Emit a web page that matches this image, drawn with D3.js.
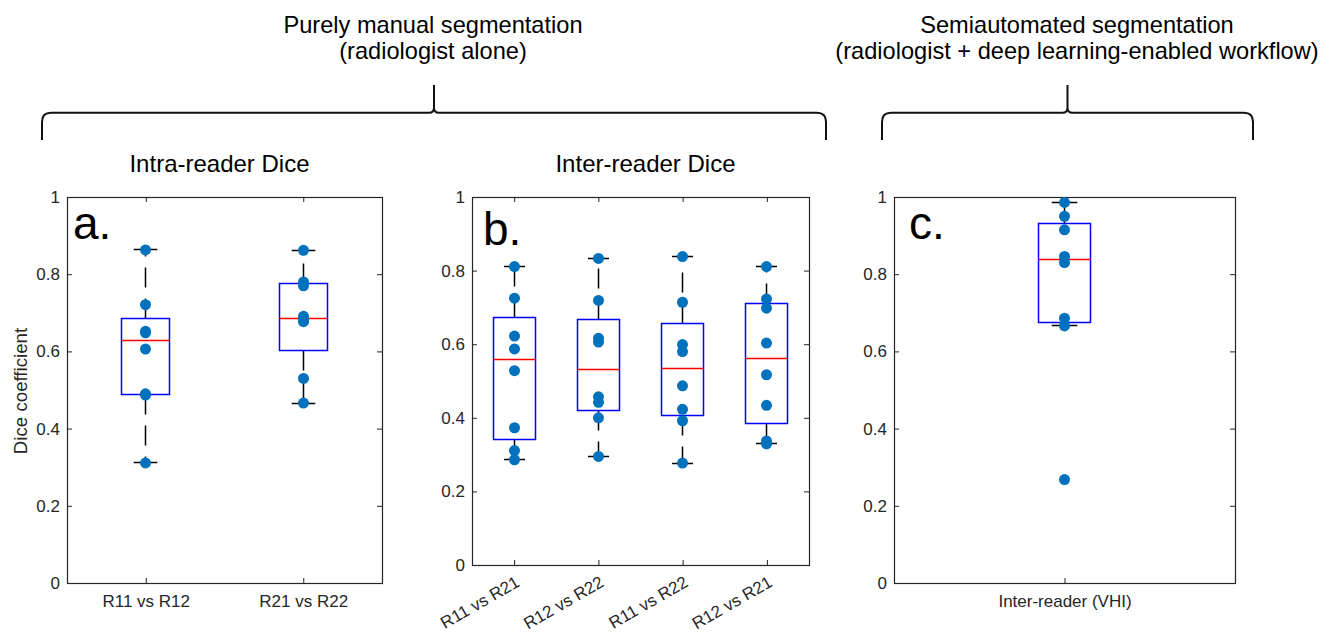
<!DOCTYPE html>
<html>
<head>
<meta charset="utf-8">
<script src="https://cdn.jsdelivr.net/npm/d3@7"></script>
<style>
  html, body { margin: 0; padding: 0; background: #fff; }
  svg { display: block; font-family: "Liberation Sans", Arial, Helvetica, sans-serif; }
</style>
</head>
<body>
<svg id="chart" width="1330" height="634"></svg>
<script>
// ---------------- DATA ----------------
const yTicks = [0, 0.2, 0.4, 0.6, 0.8, 1];
const yTickLabels = ["0", "0.2", "0.4", "0.6", "0.8", "1"];

const catsA = ["R11 vs R12", "R21 vs R22"];
const diceA = [
  [0.863, 0.721, 0.652, 0.648, 0.606, 0.490, 0.487, 0.311],
  [0.862, 0.780, 0.770, 0.691, 0.681, 0.677, 0.530, 0.466]
];

const catsB = ["R11 vs R21", "R12 vs R22", "R11 vs R22", "R12 vs R21"];
const diceB = [
  [0.811, 0.725, 0.622, 0.587, 0.528, 0.373, 0.311, 0.286],
  [0.833, 0.719, 0.616, 0.606, 0.457, 0.442, 0.400, 0.295],
  [0.838, 0.714, 0.599, 0.580, 0.487, 0.423, 0.392, 0.277],
  [0.811, 0.723, 0.698, 0.603, 0.517, 0.434, 0.337, 0.329]
];

const catsC = ["Inter-reader (VHI)"];
const diceC = [
  [0.986, 0.950, 0.915, 0.846, 0.830, 0.686, 0.666, 0.268]
];

const panelTitles = ["Intra-reader Dice", "Inter-reader Dice", ""];
const panelLetters = ["a.", "b.", "c."];
const yAxisLabel = "Dice coefficient";
const groupTitles = [
  ["Purely manual segmentation", "(radiologist alone)"],
  ["Semiautomated segmentation", "(radiologist + deep learning-enabled workflow)"]
];

// ---------------- LAYOUT ----------------
const AX = "#262626";
const DOT = "#0072BD";
const FONT_TICK = 17;
const LW = 1.5;

const panels = [
  { cats: catsA, data: diceA, x0: 67, x1: 382, y0: 197, y1: 583, boxFrac: 0.30,
    title: panelTitles[0], titleX: 219.5, letter: panelLetters[0], letterX: 73, letterY: 239,
    ylabel: true, rotate: false },
  { cats: catsB, data: diceB, x0: 472, x1: 809, y0: 197, y1: 565, boxFrac: 0.50,
    title: panelTitles[1], titleX: 645.5, letter: panelLetters[1], letterX: 483, letterY: 245,
    ylabel: false, rotate: true },
  { cats: catsC, data: diceC, x0: 894, x1: 1235, y0: 197, y1: 583, boxFrac: 0.15,
    title: panelTitles[2], titleX: 1064, letter: panelLetters[2], letterX: 909, letterY: 239,
    ylabel: false, rotate: false }
];

const braces = [
  { x0: 42, x1: 826, tip: 434, yLine: 112.7, yTop: 85, yBot: 140, textX: 433, lines: groupTitles[0] },
  { x0: 882, x1: 1253, tip: 1067.5, yLine: 112.7, yTop: 85, yBot: 140, textX: 1077, lines: groupTitles[1] }
];

const cr = v => Math.round(v - 0.5) + 0.5;

// MATLAB-style percentile
function mq(sorted, p) {
  const n = sorted.length;
  const pos = n * p + 0.5;
  if (pos <= 1) return sorted[0];
  if (pos >= n) return sorted[n - 1];
  const i = Math.floor(pos), f = pos - i;
  return sorted[i - 1] + f * (sorted[i] - sorted[i - 1]);
}
function boxStats(vals) {
  const s = vals.slice().sort((a, b) => a - b);
  const q1 = mq(s, 0.25), med = mq(s, 0.5), q3 = mq(s, 0.75);
  const iqr = q3 - q1;
  const lo = d3.min(s.filter(v => v >= q1 - 1.5 * iqr));
  const hi = d3.max(s.filter(v => v <= q3 + 1.5 * iqr));
  return { q1, med, q3, lo, hi };
}

const svg = d3.select("#chart");

// ---------------- BRACES + GROUP TITLES ----------------
braces.forEach(b => {
  const r = 9, rt = 5;
  const p = d3.path();
  p.moveTo(b.x0, b.yBot);
  p.lineTo(b.x0, b.yLine + r);
  p.quadraticCurveTo(b.x0, b.yLine, b.x0 + r, b.yLine);
  p.lineTo(b.tip - rt, b.yLine);
  p.quadraticCurveTo(b.tip, b.yLine, b.tip, b.yLine - rt);
  p.lineTo(b.tip, b.yTop);
  p.moveTo(b.x1, b.yBot);
  p.lineTo(b.x1, b.yLine + r);
  p.quadraticCurveTo(b.x1, b.yLine, b.x1 - r, b.yLine);
  p.lineTo(b.tip + rt, b.yLine);
  p.quadraticCurveTo(b.tip, b.yLine, b.tip, b.yLine - rt);
  svg.append("path").attr("d", p.toString())
    .attr("fill", "none").attr("stroke", "#111").attr("stroke-width", 2);
  b.lines.forEach((t, i) => {
    svg.append("text").attr("x", b.textX).attr("y", 32.5 + i * 26.5)
      .attr("text-anchor", "middle").attr("font-size", 23.6).attr("fill", "#000").text(t);
  });
});

// ---------------- PANELS ----------------
panels.forEach(P => {
  const g = svg.append("g");
  const x = d3.scalePoint().domain(P.cats).range([P.x0, P.x1]).padding(0.5);
  const y = d3.scaleLinear().domain([0, 1]).range([P.y1, P.y0]);
  const step = x.step();
  const bw = step * P.boxFrac;

  // frame
  g.append("rect").attr("x", cr(P.x0)).attr("y", cr(P.y0))
    .attr("width", Math.round(P.x1 - P.x0)).attr("height", Math.round(P.y1 - P.y0))
    .attr("fill", "none").attr("stroke", AX).attr("stroke-width", 1.2);

  // left axis
  const yAx = d3.axisLeft(y).tickValues(yTicks)
    .tickFormat((d, i) => yTickLabels[i]).tickSize(-5).tickPadding(7);
  const gy = g.append("g").attr("transform", `translate(${P.x0},0)`).call(yAx);
  gy.select(".domain").remove();
  gy.selectAll("line").attr("stroke", AX);
  gy.selectAll("text").attr("font-size", FONT_TICK).attr("fill", AX)
    .attr("font-family", "Liberation Sans, Arial, sans-serif");

  // right ticks
  const yAxR = d3.axisRight(y).tickValues(yTicks).tickSize(-5).tickFormat("");
  const gyr = g.append("g").attr("transform", `translate(${P.x1},0)`).call(yAxR);
  gyr.select(".domain").remove();
  gyr.selectAll("line").attr("stroke", AX);

  // top ticks
  const xAxT = d3.axisTop(x).tickSize(-5).tickFormat("");
  const gxt = g.append("g").attr("transform", `translate(0,${P.y0})`).call(xAxT);
  gxt.select(".domain").remove();
  gxt.selectAll("line").attr("stroke", AX);

  // bottom axis
  const xAx = d3.axisBottom(x).tickSize(-5).tickPadding(12);
  const gx = g.append("g").attr("transform", `translate(0,${P.y1})`).call(xAx);
  gx.select(".domain").remove();
  gx.selectAll("line").attr("stroke", AX);
  gx.selectAll("text").attr("font-size", FONT_TICK).attr("fill", AX)
    .attr("font-family", "Liberation Sans, Arial, sans-serif");
  if (P.rotate) {
    gx.selectAll("text")
      .attr("text-anchor", "end")
      .attr("y", 0).attr("dy", "0.71em")
      .attr("transform", "translate(0,10) rotate(-30)");
  }

  // boxes
  P.cats.forEach((c, i) => {
    const vals = P.data[i];
    const s = boxStats(vals);
    const cx = cr(x(c));
    const xl = cr(cx - bw / 2), xr = cr(cx + bw / 2);
    const yq1 = cr(y(s.q1)), yq3 = cr(y(s.q3)), ymed = cr(y(s.med));
    const yhi = cr(y(s.hi)), ylo = cr(y(s.lo));
    const bg = g.append("g");
    // whiskers (dashed, from box edge outward)
    bg.append("line").attr("x1", cx).attr("x2", cx).attr("y1", yq3).attr("y2", yhi)
      .attr("stroke", "#000").attr("stroke-width", LW).attr("stroke-dasharray", "20,11");
    bg.append("line").attr("x1", cx).attr("x2", cx).attr("y1", yq1).attr("y2", ylo)
      .attr("stroke", "#000").attr("stroke-width", LW).attr("stroke-dasharray", "20,11");
    // caps
    [yhi, ylo].forEach(v => {
      bg.append("line").attr("x1", cx - bw / 4).attr("x2", cx + bw / 4)
        .attr("y1", v).attr("y2", v).attr("stroke", "#000").attr("stroke-width", LW);
    });
    // box
    bg.append("rect").attr("x", xl).attr("y", yq3)
      .attr("width", xr - xl).attr("height", yq1 - yq3)
      .attr("fill", "none").attr("stroke", "#0000FF").attr("stroke-width", LW);
    // median
    bg.append("line").attr("x1", xl).attr("x2", xr)
      .attr("y1", ymed).attr("y2", ymed)
      .attr("stroke", "#FF0000").attr("stroke-width", LW);
    // points
    bg.selectAll("circle").data(vals).join("circle")
      .attr("cx", cx).attr("cy", d => y(d)).attr("r", 5.5).attr("fill", DOT);
  });

  // title
  if (P.title) {
    svg.append("text").attr("x", P.titleX).attr("y", 172)
      .attr("text-anchor", "middle").attr("font-size", 24).attr("fill", "#000").text(P.title);
  }
  // panel letter
  svg.append("text").attr("x", P.letterX).attr("y", P.letterY)
    .attr("font-size", 46).attr("fill", "#000").text(P.letter);

  // y label
  if (P.ylabel) {
    svg.append("text")
      .attr("transform", `translate(27,${(P.y0 + P.y1) / 2 + 1}) rotate(-90)`)
      .attr("text-anchor", "middle").attr("font-size", 18.7).attr("fill", AX)
      .text(yAxisLabel);
  }
});
</script>
</body>
</html>
